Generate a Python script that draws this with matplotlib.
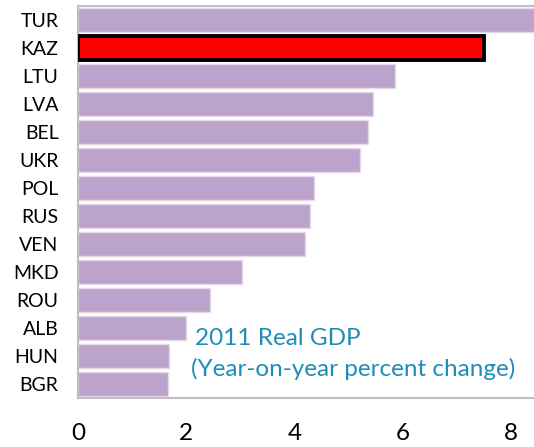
import matplotlib.pyplot as plt

# 2011 real GDP growth, percent
countries = ['TUR', 'KAZ', 'LTU', 'LVA', 'BEL', 'UKR', 'POL', 'RUS', 'VEN',
             'MKD', 'ROU', 'ALB', 'HUN', 'BGR']
growth = [8.5, 7.5, 5.85, 5.45, 5.35, 5.2, 4.35, 4.28, 4.19,
          3.03, 2.44, 1.99, 1.69, 1.66]
highlight = 'KAZ'
xticks = [0, 2, 4, 6, 8]

plt.rcParams['font.family'] = ['Lato', 'DejaVu Sans']

fig = plt.figure(figsize=(5.34, 4.47), dpi=100)
ax = fig.add_axes([0.146, 0.1096, 0.854, 0.877])

ypos = list(range(len(countries)))[::-1]
for y, c, v in zip(ypos, countries, growth):
    if c == highlight:
        ax.barh(y, v, height=0.84, color='#FF0000', edgecolor='black', linewidth=2.8, zorder=3)
    else:
        ax.barh(y, v, height=0.86, color='#BBA3CB', edgecolor='#E4DAEA', linewidth=1, zorder=2)

ax.set_xlim(0, 8.42)
ax.set_ylim(-0.5, 13.5)
ax.set_yticks(ypos)
ax.set_yticklabels(countries, fontsize=14)
ax.set_xticks(xticks)
ax.set_xticklabels([str(t) for t in xticks], fontsize=17.5)
ax.tick_params(axis='y', length=0, pad=14)
ax.tick_params(axis='x', length=0, pad=18)

for s in ['left', 'top', 'bottom']:
    ax.spines[s].set_color('#BFBFBF')
    ax.spines[s].set_linewidth(1.5)
ax.spines['right'].set_visible(False)

ax.text(0.257, 0.152, '2011 Real GDP', transform=ax.transAxes, fontsize=17.5,
        color='#1F8DB7', ha='left', va='center')
ax.text(0.247, 0.075, '(Year-on-year percent change)', transform=ax.transAxes, fontsize=17.5,
        color='#1F8DB7', ha='left', va='center')

fig.savefig('out.png', dpi=100)
